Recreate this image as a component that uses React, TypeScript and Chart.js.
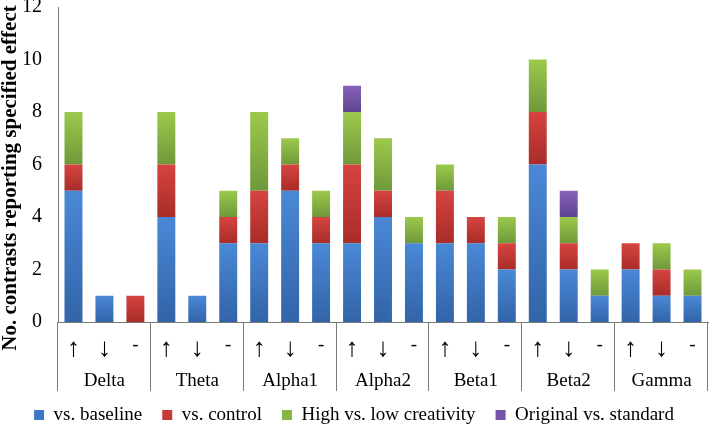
import React, { useEffect, useRef } from "react";
import { Chart, registerables } from "chart.js";

Chart.register(...registerables);

const bands = ["Delta", "Theta", "Alpha1", "Alpha2", "Beta1", "Beta2", "Gamma"];
const directions = ["↑", "↓", "-"];
const categories = bands.flatMap(() => directions);

const baseline = [5, 1, 0, 4, 1, 3, 3, 5, 3, 3, 4, 3, 3, 3, 2, 6, 2, 1, 2, 1, 1];
const control = [1, 0, 1, 2, 0, 1, 2, 1, 1, 3, 1, 0, 2, 1, 1, 2, 1, 0, 1, 1, 0];
const creativity = [2, 0, 0, 2, 0, 1, 3, 1, 1, 2, 2, 1, 1, 0, 1, 2, 1, 1, 0, 1, 1];
const original = [0, 0, 0, 0, 0, 0, 0, 0, 0, 1, 0, 0, 0, 0, 0, 0, 1, 0, 0, 0, 0];

const seriesNames = ["vs. baseline", "vs. control", "High vs. low creativity", "Original vs. standard"];
const seriesValues = [baseline, control, creativity, original];
const solidColors = ["#3C78C6", "#C83A36", "#88B441", "#7553A6"];
const topColors = ["#4A88D6", "#D64440", "#9CC94C", "#8663B8"];
const bottomColors = ["#3264A8", "#A82C29", "#6F983A", "#5E4390"];

const yTicks = [0, 2, 4, 6, 8, 10, 12];
const yTitle = "No. contrasts reporting specified effect";

const SERIF = "'Liberation Serif', 'Times New Roman', serif";

const dividerPlugin = {
  id: "dividers",
  afterInit(chart: any) {
    const lg = chart.legend;
    if (lg && !lg.__patched) {
      const orig = lg.fit.bind(lg);
      lg.fit = () => {
        orig();
        lg.height = 23;
      };
      lg.__patched = true;
    }
  },
  afterLayout(chart: any) {
    const lg = chart.legend;
    if (lg) {
      lg.top = 385.5;
      lg.bottom = lg.top + 41;
    }
  },
  afterDraw(chart: any) {
    const { ctx, chartArea, scales } = chart;
    const x = scales.x;
    const n = categories.length;
    const cw = (x.right - x.left) / n;
    ctx.save();
    ctx.strokeStyle = "#7a7a7a";
    ctx.lineWidth = 1;
    for (let i = 0; i <= bands.length; i++) {
      const px = Math.round(x.left + i * directions.length * cw) - 0.5;
      ctx.beginPath();
      ctx.moveTo(px, chartArea.bottom);
      ctx.lineTo(px, chartArea.bottom + 69);
      ctx.stroke();
    }
    // y axis title
    ctx.translate(11, 178);
    ctx.rotate(-Math.PI / 2);
    ctx.font = `bold 21px ${SERIF}`;
    ctx.fillStyle = "#000";
    ctx.textAlign = "center";
    ctx.textBaseline = "middle";
    ctx.fillText(yTitle, 0, 0);
    ctx.restore();
  },
};

export default function App() {
  const ref = useRef<HTMLCanvasElement>(null);

  useEffect(() => {
    if (!ref.current) return;
    const datasets = seriesNames.map((name, si) => ({
      label: name,
      data: seriesValues[si],
      borderWidth: 0,
      barPercentage: 0.58,
      categoryPercentage: 1,
      backgroundColor: (c: any) => {
        if (c.type !== "data") return solidColors[si];
        const chart = c.chart;
        const y = chart.scales && chart.scales.y;
        if (!chart.chartArea || !y) return solidColors[si];
        const i = c.dataIndex;
        let cum = 0;
        for (let k = 0; k < si; k++) cum += seriesValues[k][i];
        const v = seriesValues[si][i];
        const top = y.getPixelForValue(cum + v);
        const bot = y.getPixelForValue(cum);
        if (!isFinite(top) || !isFinite(bot) || top === bot) return solidColors[si];
        const g = chart.ctx.createLinearGradient(0, top, 0, bot);
        g.addColorStop(0, topColors[si]);
        g.addColorStop(1, bottomColors[si]);
        return g;
      },
    }));

    const chart = new Chart(ref.current, {
      type: "bar",
      data: { labels: categories, datasets },
      options: {
        animation: false,
        responsive: true,
        maintainAspectRatio: false,
        layout: { padding: { left: 0, right: 1, top: 0, bottom: 0 } },
        plugins: {
          tooltip: { enabled: false },
          legend: {
            position: "bottom",
            labels: {
              boxWidth: 10,
              boxHeight: 10,
              padding: 20,
              color: "#000",
              font: { family: SERIF, size: 19 },
              generateLabels: () =>
                seriesNames.map((name, si) => ({
                  text: name,
                  fillStyle: solidColors[si],
                  strokeStyle: solidColors[si],
                  lineWidth: 0,
                  hidden: false,
                  datasetIndex: si,
                })),
            },
          },
        },
        scales: {
          x: {
            stacked: true,
            grid: { display: false },
            border: { display: true, color: "#7a7a7a" },
            ticks: {
              color: "#000",
              font: (c: any) => ({
                family: SERIF,
                size: c.index % 3 === 2 ? 19 : 26,
              }),
              padding: 4,
              maxRotation: 0,
              autoSkip: false,
            },
            afterFit: (s: any) => {
              s.height = 38;
            },
          },
          x2: {
            type: "category",
            labels: bands,
            position: "bottom",
            offset: true,
            grid: { display: false },
            border: { display: false },
            ticks: {
              color: "#000",
              font: { family: SERIF, size: 19 },
              padding: 2,
              maxRotation: 0,
              autoSkip: false,
            },
            afterFit: (s: any) => {
              s.height = 41;
            },
          },
          y: {
            stacked: true,
            min: 0,
            max: 12,
            grid: { display: false },
            border: { display: true, color: "#7a7a7a" },
            ticks: {
              stepSize: 2,
              color: "#000",
              padding: 8,
              font: { family: SERIF, size: 20 },
              callback: (v: any) => (yTicks.includes(Number(v)) ? String(v) : ""),
            },
            afterFit: (s: any) => {
              s.width = 58;
              s.paddingTop = 7;
              s.paddingBottom = 0;
            },
          },
        },
      },
      plugins: [dividerPlugin],
    });
    return () => chart.destroy();
  }, []);

  return (
    <div style={{ position: "absolute", left: 0, top: 0, width: 709, height: 424 }}>
      <canvas ref={ref} />
    </div>
  );
}
